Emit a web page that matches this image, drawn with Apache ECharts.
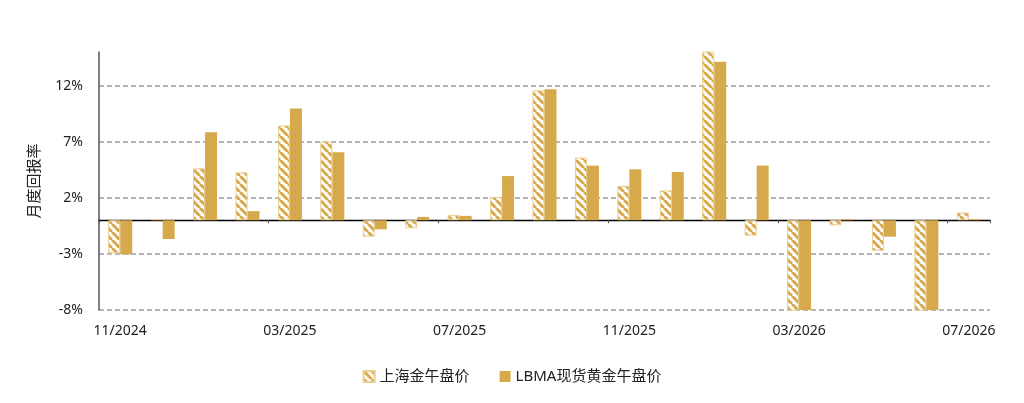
<!DOCTYPE html>
<html>
<head>
<meta charset="utf-8">
<script src="https://cdn.jsdelivr.net/npm/echarts@6/dist/echarts.min.js"></script>
<style>
  html, body { margin: 0; padding: 0; background: #fff; }
  #main { width: 1024px; height: 403px; }
</style>
</head>
<body>
<div id="main"></div>
<script>
var months = ['11/2024', '12/2024', '01/2025', '02/2025', '03/2025', '04/2025', '05/2025',
  '06/2025', '07/2025', '08/2025', '09/2025', '10/2025', '11/2025', '12/2025',
  '01/2026', '02/2026', '03/2026', '04/2026', '05/2026', '06/2026', '07/2026'];

// 月度回报率 (%)
var shanghaiPm = [-2.95, 0.12, 4.63, 4.27, 8.45, 7.01, -1.46, -0.72, 0.48, 2.06, 11.58,
  5.58, 3.07, 2.66, 16.2, -1.37, -9.6, -0.45, -2.72, -9.4, 0.69];
var lbmaPm = [-3.05, -1.67, 7.85, 0.81, 9.97, 6.06, -0.81, 0.30, 0.39, 3.94, 11.67,
  4.87, 4.54, 4.30, 14.12, 4.87, -9.2, 0.09, -1.46, -9.1, 0.09];

var yTicks = [-8, -3, 2, 7, 12];

var gold = '#D6AA4C';

// 斜线填充
function hatch() {
  var s = 8;
  var c = document.createElement('canvas');
  c.width = s; c.height = s;
  var ctx = c.getContext('2d');
  ctx.fillStyle = '#fff';
  ctx.fillRect(0, 0, s, s);
  ctx.strokeStyle = gold;
  ctx.lineWidth = 3;
  for (var k = -1; k <= 1; k++) {
    ctx.beginPath();
    ctx.moveTo(k * s, 0);
    ctx.lineTo(k * s + s, s);
    ctx.stroke();
  }
  return c;
}

var myChart = echarts.init(document.getElementById('main'));

var option = {
  backgroundColor: '#fff',
  animation: false,
  textStyle: { fontFamily: '"Noto Sans", "Noto Sans CJK SC", sans-serif' },
  grid: { left: 99, right: 34, top: 52, bottom: 93 },
  legend: {
    top: 364,
    left: 'center',
    itemWidth: 11,
    itemHeight: 11,
    itemGap: 30,
    icon: 'rect',
    textStyle: { fontSize: 15, color: '#222', fontFamily: '"Noto Sans", "Noto Sans CJK SC", sans-serif' },
    data: ['上海金午盘价', 'LBMA现货黄金午盘价']
  },
  xAxis: [
    {
      type: 'category',
      data: months,
      position: 'bottom',
      axisLine: { show: false, onZero: false },
      axisTick: { show: false },
      axisLabel: { interval: 3, color: '#222', fontSize: 14, margin: 14 }
    },
    {
      type: 'category',
      data: months,
      position: 'top',
      axisLine: { show: true, onZero: true, lineStyle: { color: '#000', width: 1.3 } },
      axisTick: { show: true, interval: 3, inside: true, length: 3, lineStyle: { color: '#555' } },
      axisLabel: { show: false }
    }
  ],
  yAxis: {
    type: 'value',
    min: -8,
    max: 15,
    interval: 5,
    name: '月度回报率',
    nameLocation: 'middle',
    nameGap: 58,
    nameTextStyle: { fontSize: 15, color: '#222', fontFamily: '"Noto Sans CJK SC", sans-serif' },
    axisLine: { show: true, lineStyle: { color: '#555', width: 1.5 } },
    axisTick: { show: false },
    axisLabel: {
      color: '#222',
      fontSize: 14,
      margin: 16,
      formatter: function (v) { return yTicks.indexOf(v) >= 0 ? v + '%' : ''; }
    },
    splitLine: {
      show: true,
      lineStyle: {
        color: ['#a0a0a0', '#a0a0a0', '#a0a0a0', '#a0a0a0', '#a0a0a0', 'rgba(0,0,0,0)'],
        type: [5, 3],
        width: 1.5
      }
    }
  },
  series: [
    {
      name: '上海金午盘价',
      type: 'bar',
      data: shanghaiPm,
      barWidth: 12,
      barGap: '0%',
      itemStyle: {
        color: { image: hatch(), repeat: 'repeat' },
        borderColor: '#EBCD8E',
        borderWidth: 1
      }
    },
    {
      name: 'LBMA现货黄金午盘价',
      type: 'bar',
      data: lbmaPm,
      barWidth: 12,
      barGap: '0%',
      itemStyle: { color: gold }
    }
  ]
};

myChart.setOption(option);
</script>
</body>
</html>
